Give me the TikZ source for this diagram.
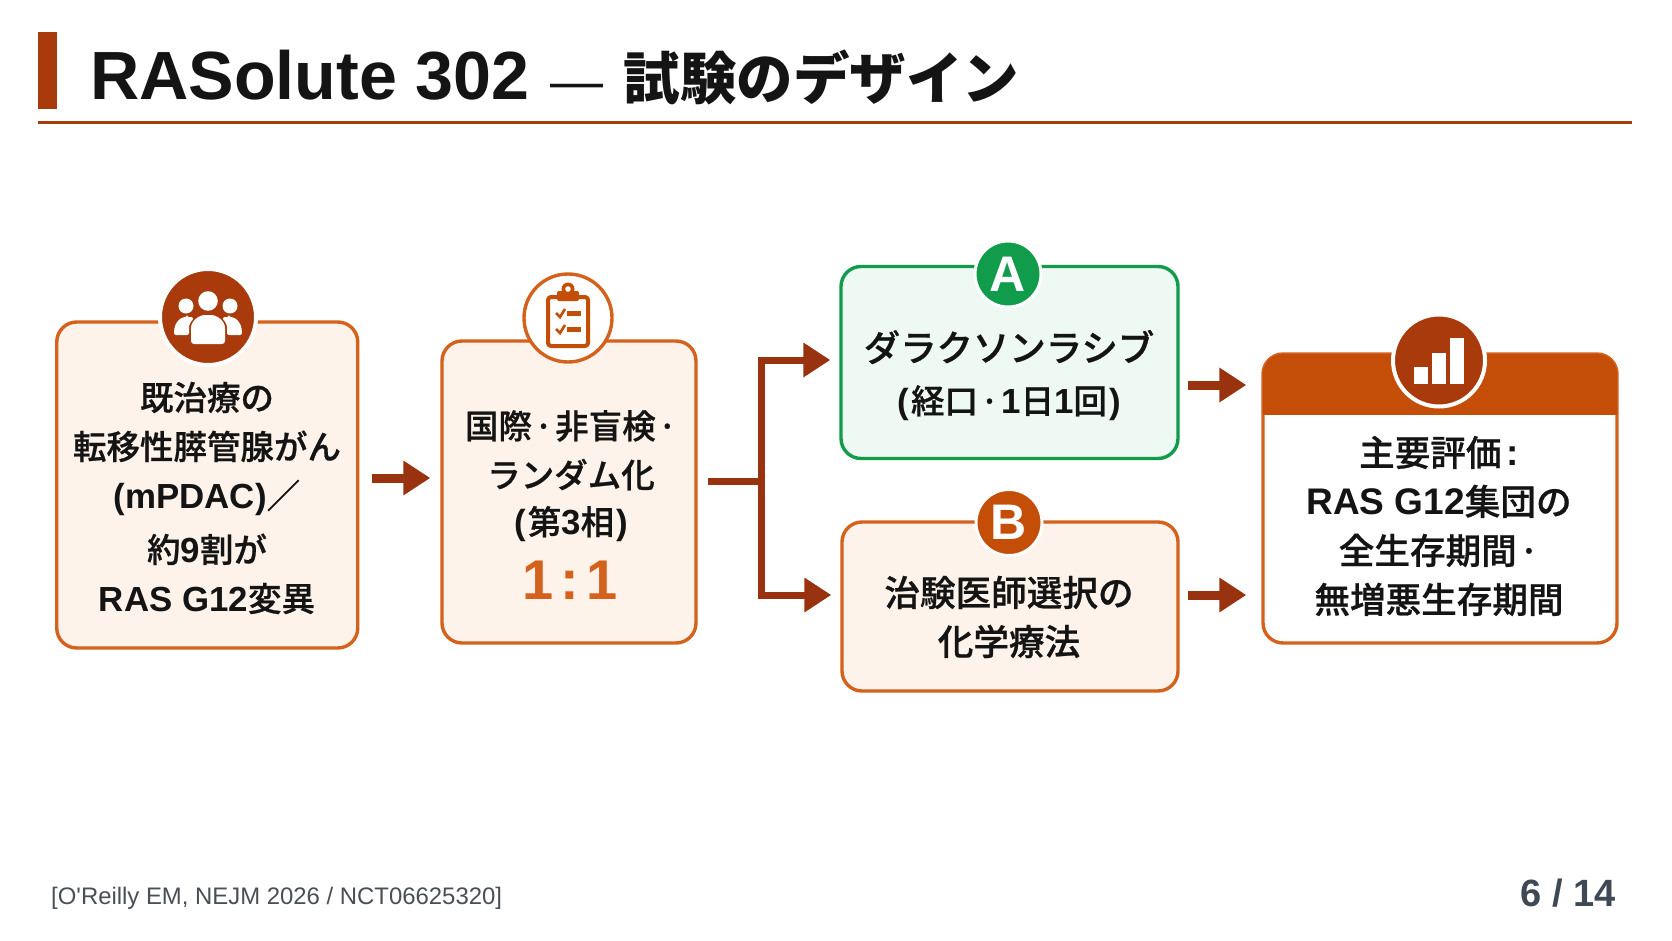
\documentclass[tikz,border=0pt]{standalone}
\usepackage{fontspec}
\usetikzlibrary{arrows.meta,calc}
\setmainfont{Noto Sans CJK JP}
\newfontfamily\medfont[FakeBold=0.7]{Noto Sans CJK JP Medium}
\newfontfamily\titlelat[Scale=1.1]{Liberation Sans}
\newfontfamily\latfont[Scale=1.04]{Liberation Sans}
\newfontfamily\footfont{Liberation Sans}
\newcommand\la[1]{{\latfont\bfseries #1}}
\newcommand\dt{\hspace{2pt}·\hspace{2pt}}
\definecolor{orangeline}{HTML}{D4611C}
\definecolor{rust}{HTML}{A83A0C}
\definecolor{headorange}{HTML}{C44D08}
\definecolor{arrowred}{HTML}{98320F}
\definecolor{peach}{HTML}{FDF3EA}
\definecolor{mint}{HTML}{EFF9F3}
\definecolor{greenline}{HTML}{119C4B}
\definecolor{inkblack}{HTML}{141414}
\definecolor{slate}{HTML}{3F4955}
\definecolor{footgrey}{HTML}{4A4F57}
\tikzset{
  x=1pt,y=-1pt,
  card/.style={draw=orangeline,fill=peach,line width=3.4pt,rounded corners=20pt,inner sep=0pt},
  label/.style={text=inkblack,font=\medfont\fontsize{33.5}{49}\selectfont,align=center,inner sep=0pt},
  biglabel/.style={label,font=\medfont\fontsize{35.6}{49}\selectfont},
  arr/.style={draw=arrowred,line width=9pt,-{Triangle[length=27pt,width=33pt]}},
  branch/.style={arr,line width=7pt},
  trunk/.style={draw=arrowred,line width=7pt},
  badge/.style={circle,inner sep=0pt,minimum size=96pt},
  iconw/.style={fill=white,draw=none},
  iconr/.style={draw=headorange,line width=4pt,line join=round},
}
\begin{document}
\begin{tikzpicture}
\useasboundingbox (0,0) rectangle (1672,941);
\fill[white] (0,0) rectangle (1672,941);
% header
\fill[rust] (38,32) rectangle (56.5,109);
\node[anchor=base west,inner sep=0pt,text=inkblack,font=\bfseries\fontsize{56.5}{70}\selectfont] (title) at (90,100) {{\titlelat\fontsize{62}{70}\selectfont RASolute 302}\hspace{21pt}{\footfont\mdseries\fontsize{53}{70}\selectfont —}\hspace{20pt}試験のデザイン};
\draw[rust,line width=2.6pt] (38,122.5) -- (1632,122.5);
% cards
\node[card,minimum width=301pt,minimum height=326pt] (patients) at (207.25,485) {};
\node[card,minimum width=254pt,minimum height=302pt] (design) at (569,492) {};
\node[card,draw=greenline,fill=mint,minimum width=337pt,minimum height=192pt] (armA) at (1009.5,362.5) {};
\node[card,minimum width=336pt,minimum height=169pt] (armB) at (1010,606.5) {};
\node[card,fill=white,minimum width=354pt,minimum height=289pt] (endpoint) at (1440,498.5) {};
\begin{scope}
  \clip (1255,345) rectangle (1625,414);
  \fill[headorange,rounded corners=20pt] (1263,354) rectangle (1617,643);
\end{scope}
% connectors
\coordinate (r1) at (0,478);
\coordinate (r2) at (0,481);
\coordinate (r3) at (0,360);
\coordinate (r4) at (0,595);
\coordinate (r5) at (0,385);
\coordinate (split) at (761,481);
\draw[arr,shorten <=13pt,shorten >=10pt] (patients.east |- r1) -- (design.west |- r1);
\draw[trunk,shorten <=10pt] (design.east |- r2) -- (split);
\draw[branch,shorten >=9pt] (split) |- (armA.west |- r3);
\draw[branch,shorten >=9pt] (split) |- (armB.west |- r4);
\draw[arr,shorten <=8pt,shorten >=15pt] (armA.east |- r5) -- (endpoint.west |- r5);
\draw[arr,shorten <=8pt,shorten >=15pt] (armB.east |- r4) -- (endpoint.west |- r4);
% texts
\node[label] (t1) at (207,498) {既治療の\\転移性膵管腺がん\\\la{(mPDAC)}／\\[5pt]約\la{9}割が\\\la{RAS G12}変異};
\node[label] (t2) at (571,476) {国際\dt 非盲検\dt\\ランダム化\\[-2pt]\la{(}\hspace{2pt}第\la{3}相\hspace{2pt}\la{)}};
\node[anchor=center,inner sep=0pt,text=orangeline,font=\footfont\bfseries\fontsize{56}{60}\selectfont] (ratio) at (570,580) {1\hspace{7pt}:\hspace{7pt}1};
\node[label,font=\medfont\fontsize{36.4}{56}\selectfont] (t3) at (1009,347) {ダラクソンラシブ};
\node[label] (t3b) at (1009,403) {\la{(}\hspace{2pt}経口\dt\la{1}日\la{1}回\hspace{2pt}\la{)}};
\node[biglabel] (t4) at (1009,617) {治験医師選択の\\化学療法};
\node[biglabel] (t5) at (1439,526) {主要評価\la{\hspace{5pt}:}\\\la{RAS G12}集団の\\全生存期間\dt\\無増悪生存期間};
% badges
\node[badge,fill=rust,draw=white,line width=4pt] (people) at (208,317) {};
\begin{scope}[shift={(people.center)}]
  \fill[white] (-22,-11) circle (7.5);
  \fill[white] (22,-11) circle (7.5);
  \fill[white] (0,-16) circle (9.8);
  \fill[iconw,rounded corners=2pt] (-21,0) .. controls (-25,0) and (-34,3) .. (-34,18) -- (-19,18) -- (-19,12) .. controls (-19,8) and (-17,4) .. (-14,2) .. controls (-16,0) and (-18,0) .. (-21,0) -- cycle;
  \fill[iconw,rounded corners=2pt] (21,0) .. controls (25,0) and (34,3) .. (34,18) -- (19,18) -- (19,12) .. controls (19,8) and (17,4) .. (14,2) .. controls (16,0) and (18,0) .. (21,0) -- cycle;
  \fill[iconw,rounded corners=3pt] (-17,27) -- (-17,14) .. controls (-17,4) and (-9,-2) .. (0,-2) .. controls (9,-2) and (17,4) .. (17,14) -- (17,27) -- cycle;
\end{scope}
\node[badge,fill=white,draw=orangeline,line width=3.4pt,minimum size=88pt] (clip) at (568,318) {};
\begin{scope}[shift={(clip.center)}]
  \draw[iconr,rounded corners=3pt] (-10,-21) -- (-20,-21) -- (-20,28) -- (20,28) -- (20,-21) -- (10,-21);
  \fill[headorange,rounded corners=2pt] (-11,-27) rectangle (11,-17);
  \fill[headorange] (0,-29) circle (6.5);
  \fill[white] (0,-29) circle (2.8);
  \draw[headorange,line width=2.6pt] (-12,-5) -- (-8,-1) -- (-3,-9);
  \draw[headorange,line width=2.6pt] (-12,11) -- (-8,15) -- (-3,7);
  \fill[headorange] (-1,-7) rectangle (13,-2);
  \fill[headorange] (-1,9) rectangle (13,14);
\end{scope}
\node[badge,fill=greenline,draw=white,line width=3pt,minimum size=66pt,text=white,font=\footfont\bfseries\fontsize{50}{50}\selectfont] (badgeA) at (1008,274) {A};
\node[badge,fill=headorange,draw=white,line width=3pt,minimum size=66pt,text=white,font=\footfont\bfseries\fontsize{50}{50}\selectfont] (badgeB) at (1009,522.5) {B};
\node[badge,fill=rust,draw=white,line width=4pt,minimum size=92pt] (chart) at (1439,360.5) {};
\begin{scope}[shift={(chart.center)}]
  \fill[white] (-25,6) rectangle (-11,23);
  \fill[white] (-7,-8) rectangle (7,23);
  \fill[white] (11,-23) rectangle (25,23);
\end{scope}
% footer
\node[anchor=base west,inner sep=0pt,text=footgrey,font=\footfont\fontsize{23.9}{28}\selectfont] (source) at (51,904) {[O'Reilly EM, NEJM 2026 / NCT06625320]};
\node[anchor=base east,inner sep=0pt,text=slate,font=\footfont\bfseries\fontsize{38}{40}\selectfont] (page) at (1616,906) {6 / 14};
\end{tikzpicture}
\end{document}
